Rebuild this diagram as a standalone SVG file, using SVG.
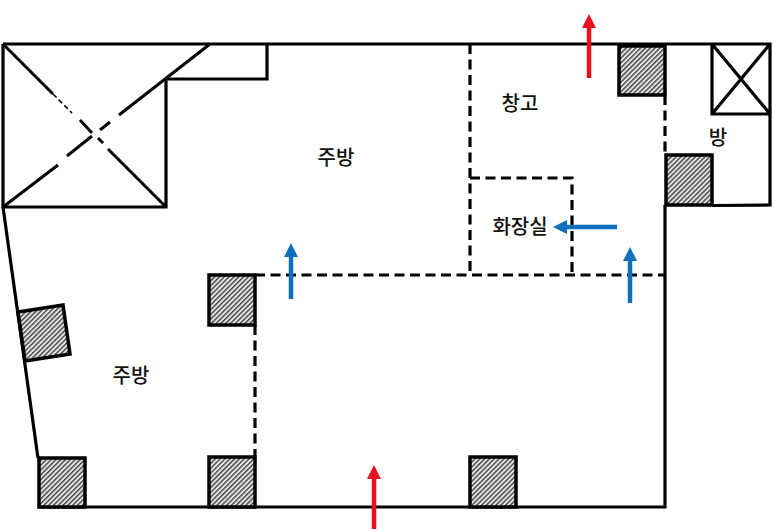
<svg xmlns="http://www.w3.org/2000/svg" width="773" height="530" viewBox="0 0 773 530">
<style>
.w{fill:none;stroke:#000;stroke-width:3.200}
.x{fill:none;stroke:#000;stroke-width:3}
.f{fill:none;stroke:#000;stroke-width:1.600;stroke-dasharray:5 3}
.d{fill:none;stroke:#000;stroke-width:3.200;stroke-dasharray:10 5.500}
.p{fill:url(#h);stroke:#000;stroke-width:3.500}
.t{font-family:"Noto Sans CJK KR","Noto Sans",sans-serif;font-size:20px;font-weight:500;fill:#111;text-anchor:middle}
.r{stroke:#e8101c;stroke-width:4.500;fill:none;marker-end:url(#ra)}
.b{stroke:#0f6fbd;stroke-width:4.500;fill:none;marker-end:url(#ba)}
</style>
<defs>
<pattern id="h" width="3.400" height="3.400" patternUnits="userSpaceOnUse" patternTransform="rotate(-45)">
<rect width="3.400" height="3.400" fill="#e4e4e4"/><rect width="3.400" height="1.400" fill="#444"/>
</pattern>
<marker id="ra" markerUnits="userSpaceOnUse" markerWidth="14" markerHeight="14" refX="1" refY="7" orient="auto"><path d="M0 0L14 7L0 14Z" fill="#e8101c"/></marker>
<marker id="ba" markerUnits="userSpaceOnUse" markerWidth="14" markerHeight="14" refX="1" refY="7" orient="auto"><path d="M0 0L14 7L0 14Z" fill="#0f6fbd"/></marker>
</defs>
<rect width="773" height="530" fill="#fff"/>
<g id="walls">
<path class="w" d="M3 44H770V205L712 205.500M712 44V114H770M712 44L770 114M770 44L712 114"/>
<path class="w" d="M3 44V207H166V80M167 79H267V44"/>
<path class="w" d="M3 207L38 458M38 507H665V205"/>
<path class="x" d="M3 44L53 94M80 120L92 133M98 138L103 143M108 149L166 207"/>
<path class="x" d="M3 207L58 165M67 156L92 136M100 130L110 122M119 115L210 44"/>
<path class="f" d="M53 94L72 113"/>
<path class="d" d="M255 275H665M255 325V457M470 44V275M470 178H572V275M665 95V155"/>
</g>
<g id="pillars">
<rect class="p" x="619" y="46" width="46" height="49"/>
<rect class="p" x="666" y="155" width="46" height="50"/>
<rect class="p" x="209" y="275" width="46" height="50"/>
<rect class="p" x="39" y="458" width="46" height="49"/>
<rect class="p" x="209" y="457" width="46" height="50"/>
<rect class="p" x="470" y="457" width="46" height="50"/>
<path class="p" d="M18 312L63 305L70 354L25 361Z"/>
</g>
<g id="connectors">
<path class="r" d="M589 78V27"/>
<path class="r" d="M374 529V478"/>
<path class="b" d="M291 299V256"/>
<path class="b" d="M630 303V260"/>
<path class="b" d="M617 227H566"/>
</g>
<g id="labels">
<text class="t" x="520" y="111">창고</text>
<text class="t" x="336" y="165">주방</text>
<text class="t" x="131" y="383">주방</text>
<text class="t" x="520" y="234">화장실</text>
<text class="t" x="718" y="145">방</text>
</g>
</svg>
